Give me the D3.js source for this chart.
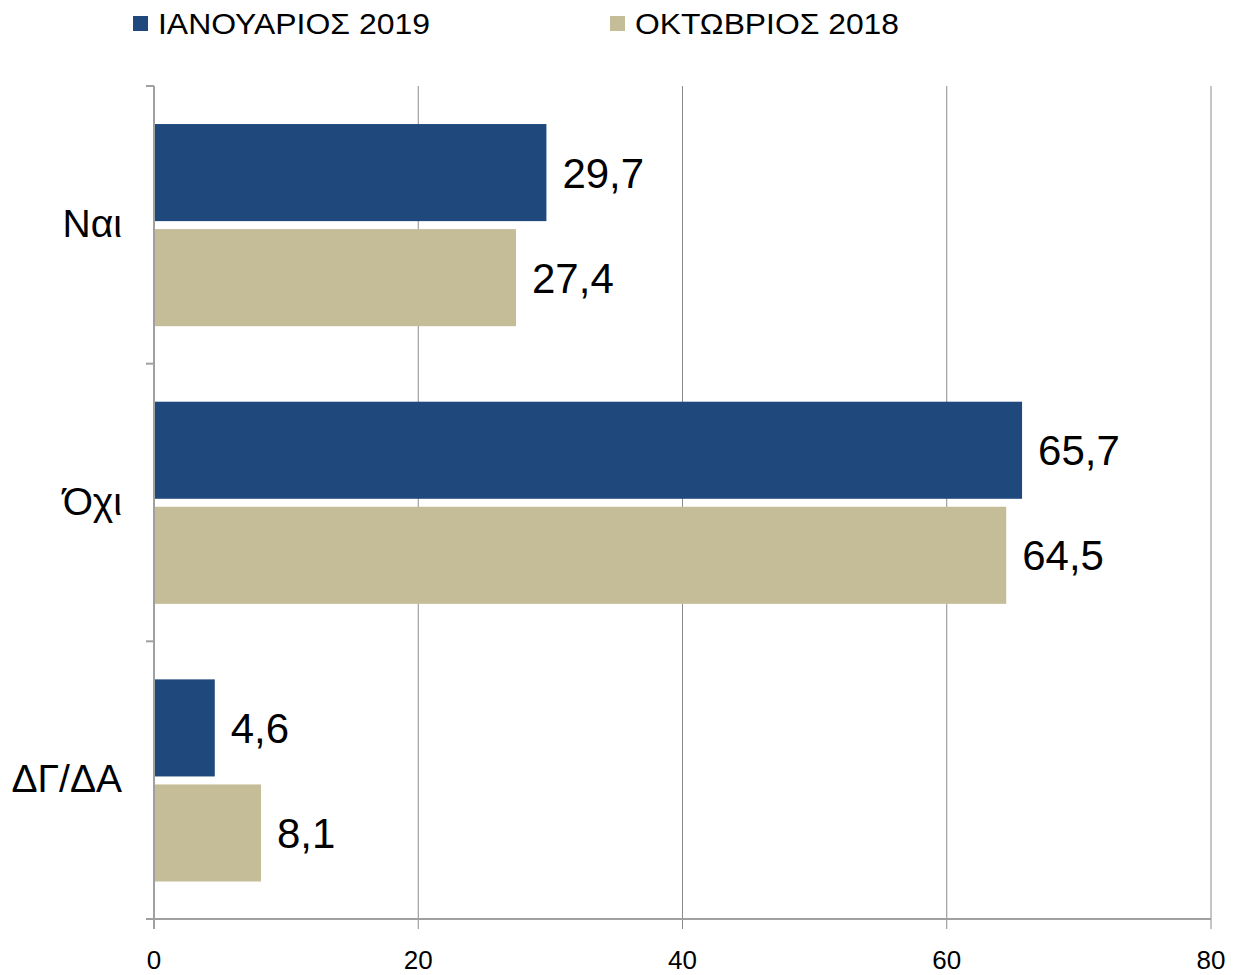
<!DOCTYPE html>
<html><head><meta charset="utf-8">
<script src="https://cdn.jsdelivr.net/npm/d3@7"></script>
<style>body{margin:0;background:#fff}svg{display:block;font-family:"Liberation Sans",Arial,sans-serif}</style>
</head><body><svg id="c" width="1233" height="975"></svg>
<script>
const categories = ["Ναι", "Όχι", "ΔΓ/ΔΑ"];
const seriesNames = ["ΙΑΝΟΥΑΡΙΟΣ 2019", "ΟΚΤΩΒΡΙΟΣ 2018"];
const jan2019 = [29.7, 65.7, 4.6];
const oct2018 = [27.4, 64.5, 8.1];
const xTicks = [0, 20, 40, 60, 80];
const colors = ["#1F497D", "#C4BD97"];

const svg = d3.select("#c");
const L = 154, R = 1211, T = 86, B = 919;
const x = d3.scaleLinear().domain([0, 80]).range([L, R]);
const y0 = d3.scaleBand().domain(categories).range([T, B]);
const bw = y0.bandwidth();
const y1 = d3.scaleBand().domain(seriesNames).range([bw * 0.137, bw * 0.865]).paddingInner(0.076);
const vals = [jan2019, oct2018];

// gridlines
svg.append("g").selectAll("line").data(xTicks.slice(1)).join("line")
  .attr("x1", d => x(d)).attr("x2", d => x(d)).attr("y1", T).attr("y2", B + 10)
  .attr("stroke", "#8c8c8c").attr("stroke-width", 1);

// bars
const rows = [];
categories.forEach((c, i) => seriesNames.forEach((s, j) => rows.push({c, s, j, v: vals[j][i]})));
svg.append("g").selectAll("rect").data(rows).join("rect")
  .attr("x", x(0)).attr("y", d => y0(d.c) + y1(d.s))
  .attr("width", d => x(d.v) - x(0)).attr("height", y1.bandwidth())
  .attr("fill", d => colors[d.j]);

// value labels
svg.append("g").selectAll("text").data(rows).join("text")
  .attr("x", d => x(d.v) + 16).attr("y", d => y0(d.c) + y1(d.s) + y1.bandwidth() / 2)
  .attr("dy", "0.36em").attr("font-size", 42).attr("fill", "#000")
  .text(d => d3.format(".1f")(d.v).replace(".", ","));

// axes lines
const axisColor = "#a0a0a0";
svg.append("line").attr("x1", L).attr("x2", L).attr("y1", T).attr("y2", B + 10)
  .attr("stroke", axisColor).attr("stroke-width", 2);
svg.append("line").attr("x1", L - 8).attr("x2", R).attr("y1", B).attr("y2", B)
  .attr("stroke", axisColor).attr("stroke-width", 2);
const bounds = categories.map(c => y0(c)).concat([B]);
svg.append("g").selectAll("line").data(bounds).join("line")
  .attr("x1", L - 8).attr("x2", L).attr("y1", d => d).attr("y2", d => d)
  .attr("stroke", axisColor).attr("stroke-width", 2);

// x tick labels
svg.append("g").selectAll("text").data(xTicks).join("text")
  .attr("x", d => x(d)).attr("y", 969).attr("text-anchor", "middle")
  .attr("font-size", 26).attr("fill", "#000").text(d => d);

// category labels
svg.append("g").selectAll("text").data(categories).join("text")
  .attr("x", 122).attr("y", d => y0(d) + bw / 2 - 2).attr("dy", "0.36em")
  .attr("text-anchor", "end").attr("font-size", 39).attr("fill", "#000").text(d => d);

// legend
const legX = [133, 610];
const legW = [272, 264];
const lg = svg.append("g").selectAll("g").data(seriesNames).join("g")
  .attr("transform", (d, i) => `translate(${legX[i]},0)`);
lg.append("rect").attr("x", 0).attr("y", 16).attr("width", 15).attr("height", 15)
  .attr("fill", (d, i) => colors[i]);
lg.append("text").attr("x", 25).attr("y", 23).attr("dy", "0.36em")
  .attr("font-size", 30).attr("fill", "#000")
  .attr("textLength", (d, i) => legW[i]).attr("lengthAdjust", "spacingAndGlyphs")
  .text(d => d);
</script></body></html>
